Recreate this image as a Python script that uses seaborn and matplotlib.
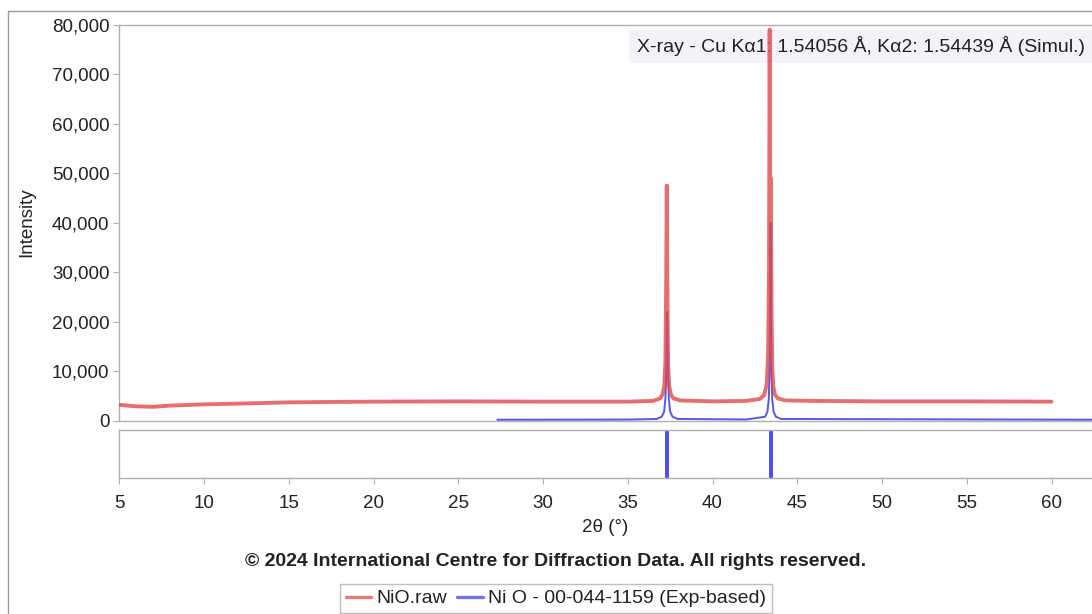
import matplotlib
matplotlib.use("Agg")
import matplotlib.pyplot as plt
import matplotlib.ticker as mticker
from matplotlib.lines import Line2D
from matplotlib.patches import Rectangle
import seaborn as sns
import pandas as pd

sns.set_theme(style="white")
plt.rcParams["font.family"] = ["Liberation Sans", "DejaVu Sans"]

# Measured pattern (NiO.raw): 2-theta in degrees, intensity in counts
raw_2theta = [5.0, 6.0, 7.0, 8.0, 10.0, 12.0, 15.0, 18.0, 20.0, 25.0, 30.0, 35.0,
              36.5, 36.9, 37.05, 37.15, 37.22, 37.26, 37.30, 37.34, 37.38, 37.45,
              37.55, 37.7, 38.1, 40.0,
              42.0, 42.8, 43.05, 43.2, 43.28, 43.33, 43.37, 43.41, 43.44, 43.48,
              43.52, 43.58, 43.68, 43.85, 44.3,
              46.0, 50.0, 55.0, 60.0]
raw_counts = [3200, 2900, 2800, 3050, 3300, 3450, 3700, 3800, 3850, 3900, 3850, 3850,
              4000, 4500, 5300, 7000, 12000, 26000, 47500, 24000, 11000, 6800,
              5200, 4500, 4100, 3900,
              4000, 4400, 5200, 7500, 14000, 30000, 79000, 38000, 49000, 22000,
              11000, 7000, 5300, 4500, 4100,
              4000, 3900, 3900, 3850]

# Simulated pattern for card 00-044-1159 (Ni O)
sim_2theta = [27.3, 35.0, 36.7, 37.0, 37.14, 37.22, 37.27, 37.32, 37.37, 37.42,
              37.5, 37.64, 37.95,
              42.0, 43.1, 43.24, 43.32, 43.37, 43.42, 43.47, 43.52, 43.6, 43.74, 44.05,
              62.6]
sim_counts = [200, 230, 350, 800, 1800, 4500, 10000, 22000, 10000, 4500,
              1800, 800, 350,
              250, 800, 1800, 4500, 11000, 40000, 11000, 4500, 1800, 800, 350,
              200]

# Reference line positions for the card
stick_2theta = [37.32, 43.42]

legend_labels = ["NiO.raw", "Ni O - 00-044-1159 (Exp-based)"]
xticks = [5, 10, 15, 20, 25, 30, 35, 40, 45, 50, 55, 60]
yticks = [0, 10000, 20000, 30000, 40000, 50000, 60000, 70000, 80000]

RED = "#e24a4a"
BLUE = "#4646e6"
STICK = "#4a4aff"
SPINE = "#b0b0b0"
TXT = "#222222"
FS = 13.5

W, H = 1092, 614
fig = plt.figure(figsize=(W / 100, H / 100), dpi=100)
fig.patch.set_facecolor("white")

x0 = 119.3 / W
x1 = 1094.0 / W
ax = fig.add_axes([x0, 1 - 420.7 / H, x1 - x0, (420.7 - 24.7) / H])
ax2 = fig.add_axes([x0, 1 - 478 / H, x1 - x0, (478 - 430) / H])

raw_df = pd.DataFrame({"two_theta": raw_2theta, "intensity": raw_counts})
sim_df = pd.DataFrame({"two_theta": sim_2theta, "intensity": sim_counts})

sns.lineplot(data=sim_df, x="two_theta", y="intensity", ax=ax, color=BLUE,
             linewidth=1.4, alpha=0.9, sort=False, estimator=None, zorder=3)
sns.lineplot(data=raw_df, x="two_theta", y="intensity", ax=ax, color=RED,
             linewidth=2.8, alpha=0.8, sort=False, estimator=None, zorder=4)

xmax = 5 + (1094.0 - 119.3) / 16.95
for a in (ax, ax2):
    a.set_xlim(5, xmax)
    a.set_facecolor("white")
    for side in ("left", "top", "bottom"):
        a.spines[side].set_color(SPINE)
        a.spines[side].set_linewidth(1.0)
    a.spines["right"].set_visible(False)

ax.set_ylim(0, 80000)
ax.set_yticks(yticks)
ax.yaxis.set_major_formatter(mticker.FuncFormatter(lambda v, p: f"{int(v):,}"))
ax.set_xticks(xticks)
ax.tick_params(axis="x", bottom=False, labelbottom=False)
ax.tick_params(axis="y", left=True, length=4, width=0.8, color=SPINE,
               labelsize=FS, labelcolor=TXT, pad=3)
ax.set_xlabel("")
ax.set_ylabel("Intensity", fontsize=FS, color=TXT)
ax.yaxis.set_label_coords(27 / W, 1 - 222 / H, transform=fig.transFigure)
ax.yaxis.label.set_va("center")

ax2.vlines(stick_2theta, 0, 1, colors=STICK, linewidth=2.8)
ax2.set_ylim(0, 1)
ax2.set_yticks([])
ax2.set_xticks(xticks)
ax2.tick_params(axis="x", bottom=True, length=4, width=0.8, color=SPINE,
                labelsize=FS, labelcolor=TXT, pad=8)
ax2.set_xlabel("2θ (°)", fontsize=FS, color=TXT)
ax2.xaxis.set_label_coords(605 / W, 1 - 527 / H, transform=fig.transFigure)
ax2.xaxis.label.set_va("center")

# Radiation note in the top-right corner, behind the traces
ax.add_patch(Rectangle((629 / W, 1 - 63 / H), (W - 629) / W, 33 / H,
                       transform=fig.transFigure, facecolor="#f2f2f8",
                       edgecolor="none", clip_on=False, zorder=1))
ax.text(637 / W, 1 - 46 / H, "X-ray - Cu Kα1: 1.54056 Å, Kα2: 1.54439 Å (Simul.)",
        transform=fig.transFigure, fontsize=14, color=TXT, va="center", ha="left",
        zorder=2, clip_on=False)

fig.text(556 / W, 1 - 562 / H,
         "© 2024 International Centre for Diffraction Data. All rights reserved.",
         ha="center", va="center", fontsize=14, fontweight="bold", color=TXT)

handles = [Line2D([], [], color=RED, linewidth=2.4, alpha=0.75),
           Line2D([], [], color=BLUE, linewidth=2.4, alpha=0.75)]
leg = fig.legend(handles, legend_labels, loc="center",
                 bbox_to_anchor=(556 / W, 1 - 598.5 / H), ncol=2,
                 fontsize=14, frameon=True, fancybox=False, handlelength=1.3,
                 handletextpad=0.3, columnspacing=0.5, borderpad=0.3,
                 labelcolor=TXT)
leg.get_frame().set_edgecolor(SPINE)
leg.get_frame().set_linewidth(1.0)

# Outer frame of the chart panel
fig.patches.append(Rectangle((7.5 / W, -0.05), 1.2, 1 - 10.5 / H + 0.05,
                             transform=fig.transFigure, facecolor="none",
                             edgecolor="#9a9a9a", linewidth=1.0, zorder=0))

fig.savefig("out.png", dpi=100)
